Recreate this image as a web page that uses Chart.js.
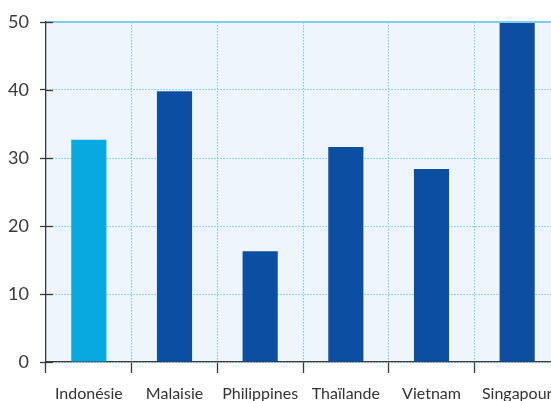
<!DOCTYPE html>
<html><head><meta charset="utf-8">
<script src="https://cdn.jsdelivr.net/npm/chart.js@4"></script>
<style>html,body{margin:0;padding:0;overflow:hidden;background:#fff;width:551px;height:401px}#w{width:560px;height:401px}</style>
</head><body><div id="w"><canvas id="c" width="560" height="401"></canvas></div>
<script>
const categories = ["Indonésie","Malaisie","Philippines","Thaïlande","Vietnam","Singapour"];
const values = [32.7, 39.8, 16.3, 31.6, 28.4, 50];
const barColors = ["#08a8e0","#0c4ea1","#0c4ea1","#0c4ea1","#0c4ea1","#0c4ea1"];
const yTicks = [0,10,20,30,40,50];

const FONT = "Lato";
const plotBg = {
  id:'plotBg',
  beforeDraw(chart){
    const {ctx, chartArea:a} = chart;
    ctx.save(); ctx.fillStyle = '#eef5fc';
    ctx.fillRect(a.left, a.top, a.right-a.left, a.bottom-a.top);
    ctx.restore();
  },
  afterDraw(chart){
    const {ctx, chartArea:a, scales} = chart;
    const y = scales.y;
    ctx.save();
    const yt = y.getPixelForValue(50);
    ctx.strokeStyle = '#7fcdea'; ctx.lineWidth = 2;
    ctx.beginPath(); ctx.moveTo(a.left, yt); ctx.lineTo(a.right, yt); ctx.stroke();
    ctx.strokeStyle = '#3a3a3a'; ctx.lineWidth = 1.3;
    yTicks.forEach(v=>{
      const p = Math.round(y.getPixelForValue(v))+0.5;
      ctx.beginPath(); ctx.moveTo(a.left, p); ctx.lineTo(a.left+7, p); ctx.stroke();
    });
    ctx.restore();
  }
};

new Chart(document.getElementById('c'), {
  type:'bar',
  data:{labels:categories, datasets:[{data:values, backgroundColor:barColors, borderWidth:0, barPercentage:0.41, categoryPercentage:1}]},
  options:{
    responsive:false, animation:false, devicePixelRatio:1,
    layout:{padding:{top:22,right:0,left:0,bottom:0}},
    plugins:{legend:{display:false}, tooltip:{enabled:false}},
    scales:{
      x:{
        afterFit(s){ s.height = 39; s.paddingLeft = 0; s.paddingRight = 0; },
        grid:{color:'#6fcbea', lineWidth:1, offset:true, drawTicks:true, tickLength:11, tickColor:'#3a3a3a', tickWidth:1.3},
        border:{color:'#3a3a3a', width:1.3, dash:[1.5,1.5]},
        ticks:{color:'#333', font:{family:FONT, size:16}, padding:11, maxRotation:0, autoSkip:false}
      },
      y:{
        min:0, max:50,
        afterFit(s){ s.width = 46; s.paddingTop = 0; s.paddingBottom = 0; },
        afterBuildTicks(s){ s.ticks = yTicks.map(v=>({value:v})); },
        grid:{color:'#6fcbea', lineWidth:1, drawTicks:true, tickLength:6, tickColor:'#3a3a3a', tickWidth:1.3},
        border:{color:'#3a3a3a', width:1.3, dash:[1.5,1.5]},
        ticks:{color:'#3a3a3a', font:{family:FONT, size:18}, padding:11}
      }
    }
  },
  plugins:[plotBg]
});
</script></body></html>
